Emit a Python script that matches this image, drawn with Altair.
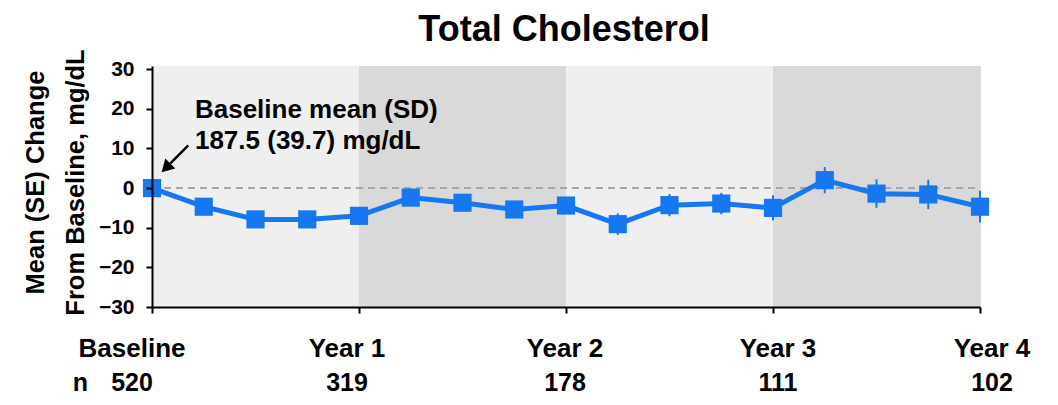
import altair as alt
import pandas as pd

# ---------------- data ----------------
QUARTERS = list(range(17))
MEAN_CHANGE = [0.0, -4.7, -7.9, -7.9, -7.0, -2.4, -3.7, -5.4, -4.4, -9.1,
               -4.3, -3.9, -5.0, 2.0, -1.4, -1.6, -4.7]
SE = [0.0, 1.0, 1.1, 1.2, 1.4, 1.5, 1.7, 1.8, 2.0, 2.7,
      2.8, 2.7, 3.2, 3.3, 3.6, 3.7, 4.0]

YEAR_QUARTERS = [0, 4, 8, 12, 16]
YEAR_LABELS = ["Baseline", "Year 1", "Year 2", "Year 3", "Year 4"]
N_AT_YEAR = ["520", "319", "178", "111", "102"]

BAND_START = [0, 4, 8, 12]
BAND_END = [4, 8, 12, 16]
BAND_SHADE = ["light", "dark", "light", "dark"]

TITLE = "Total Cholesterol"
BASELINE_NOTE = ["Baseline mean (SD)", "187.5 (39.7) mg/dL"]
BASELINE_MEAN_POINT = 0  # quarter index the note refers to

# ---------------- layout / style ----------------
FONT = "Liberation Sans"
BLUE = "#1677f0"
W, H = 828, 241
PX_PER_Q = W / 16
LABEL_NUDGE_PX = [-20, -12, -1, 5, 12]
N_LABEL_X = -1.53

x_scale = alt.Scale(domain=[0, 16], nice=False, zero=False)
y_scale = alt.Scale(domain=[-30, 30.8], nice=False, zero=False)

df = pd.DataFrame({"quarter": QUARTERS, "mean": MEAN_CHANGE, "se": SE})
df["lo"] = df["mean"] - df["se"]
df["hi"] = df["mean"] + df["se"]

bands_df = pd.DataFrame({"start": BAND_START, "end": BAND_END, "shade": BAND_SHADE})

lab_df = pd.DataFrame({
    "label": YEAR_LABELS,
    "n": N_AT_YEAR,
    "xpos": [q + d / PX_PER_Q for q, d in zip(YEAR_QUARTERS, LABEL_NUDGE_PX)],
})

one = pd.DataFrame({"k": [0]})

x_axis = alt.Axis(values=YEAR_QUARTERS, labels=False, ticks=True, tickSize=6,
                  tickWidth=2, tickColor="black", domainColor="black",
                  domainWidth=2, grid=False, title=None, zindex=1)
y_axis = alt.Axis(values=[-30, -20, -10, 0, 10, 20, 30], tickSize=6, tickWidth=2,
                  tickColor="black", domainColor="black", domainWidth=2,
                  grid=False, labelFont=FONT, labelFontSize=21,
                  labelFontWeight="bold", labelColor="black", labelPadding=12,
                  title=["Mean (SE) Change", "From Baseline, mg/dL"],
                  titleFont=FONT, titleFontSize=25.5, titleFontWeight="bold",
                  titleColor="black", titleLineHeight=40, titleAngle=270,
                  titleBaseline="alphabetic", titleAlign="center",
                  titleX=-109, titleY=116, zindex=1)

base = alt.Chart(df)

bands = alt.Chart(bands_df).mark_rect().encode(
    x=alt.X("start:Q", scale=x_scale, axis=x_axis),
    x2="end:Q",
    y=alt.Y(datum=-30, scale=y_scale, axis=y_axis),
    y2=alt.Y2(datum=30.8),
    color=alt.Color("shade:N", scale=alt.Scale(domain=["light", "dark"],
                                               range=["#efefef", "#d9d9d9"]),
                    legend=None),
)

zero = alt.Chart(one).mark_rule(color="#a6a6a6", strokeWidth=2,
                                strokeDash=[7, 5]).encode(
    x=alt.X(datum=0, scale=x_scale),
    x2=alt.X2(datum=16),
    y=alt.Y(datum=0, scale=y_scale),
)

err = base.mark_rule(color=BLUE, strokeWidth=2).encode(
    x=alt.X("quarter:Q", scale=x_scale),
    y=alt.Y("lo:Q", scale=y_scale),
    y2="hi:Q",
)

line = base.mark_line(color=BLUE, strokeWidth=5).encode(
    x=alt.X("quarter:Q", scale=x_scale),
    y=alt.Y("mean:Q", scale=y_scale),
)

pts = base.mark_point(shape="square", filled=True, size=330, opacity=1,
                      color=BLUE).encode(
    x=alt.X("quarter:Q", scale=x_scale),
    y=alt.Y("mean:Q", scale=y_scale),
)

note = alt.Chart(one).mark_text(text=BASELINE_NOTE, align="left",
                                baseline="alphabetic", font=FONT, fontSize=26,
                                fontWeight="bold", lineHeight=31,
                                color="black").encode(
    x=alt.X(datum=BASELINE_MEAN_POINT + 0.83, scale=x_scale),
    y=alt.Y(datum=17.6, scale=y_scale),
)

arrow_shaft = alt.Chart(one).mark_rule(color="black", strokeWidth=2.5).encode(
    x=alt.X(datum=BASELINE_MEAN_POINT + 0.70, scale=x_scale),
    x2=alt.X2(datum=BASELINE_MEAN_POINT + 0.27),
    y=alt.Y(datum=10.8, scale=y_scale),
    y2=alt.Y2(datum=5.1),
)

arrow_head = alt.Chart(one).mark_point(shape="triangle-up", filled=True,
                                       size=200, angle=225, opacity=1,
                                       color="black").encode(
    x=alt.X(datum=BASELINE_MEAN_POINT + 0.27, scale=x_scale),
    y=alt.Y(datum=5.1, scale=y_scale),
)

title = alt.Chart(one).mark_text(text=TITLE, align="center",
                                 baseline="alphabetic", font=FONT, fontSize=36,
                                 fontWeight="bold", color="black").encode(
    x=alt.value(W / 2 - 2),
    y=alt.value(-25),
)

year_text = alt.Chart(lab_df).mark_text(align="center", baseline="alphabetic",
                                        font=FONT, fontSize=26,
                                        fontWeight="bold",
                                        color="black").encode(
    x=alt.X("xpos:Q", scale=x_scale),
    y=alt.value(291),
    text="label:N",
)

n_text = alt.Chart(lab_df).mark_text(align="center", baseline="alphabetic",
                                     font=FONT, fontSize=25, fontWeight="bold",
                                     color="black").encode(
    x=alt.X("xpos:Q", scale=x_scale),
    y=alt.value(325),
    text="n:N",
)

n_head = alt.Chart(one).mark_text(text="n", align="left", baseline="alphabetic",
                                  font=FONT, fontSize=25, fontWeight="bold",
                                  color="black").encode(
    x=alt.X(datum=N_LABEL_X, scale=x_scale),
    y=alt.value(325),
)

chart = alt.layer(
    bands, zero, err, line, pts, note, arrow_shaft, arrow_head,
    title, year_text, n_text, n_head,
).properties(
    width=W, height=H,
    autosize=alt.AutoSizeParams(type="none"),
    padding={"left": 144, "top": 58, "right": 70, "bottom": 90},
).configure_view(stroke=None).configure(background="white")

chart.save("out.html", embed_options={"renderer": "svg", "actions": False})
